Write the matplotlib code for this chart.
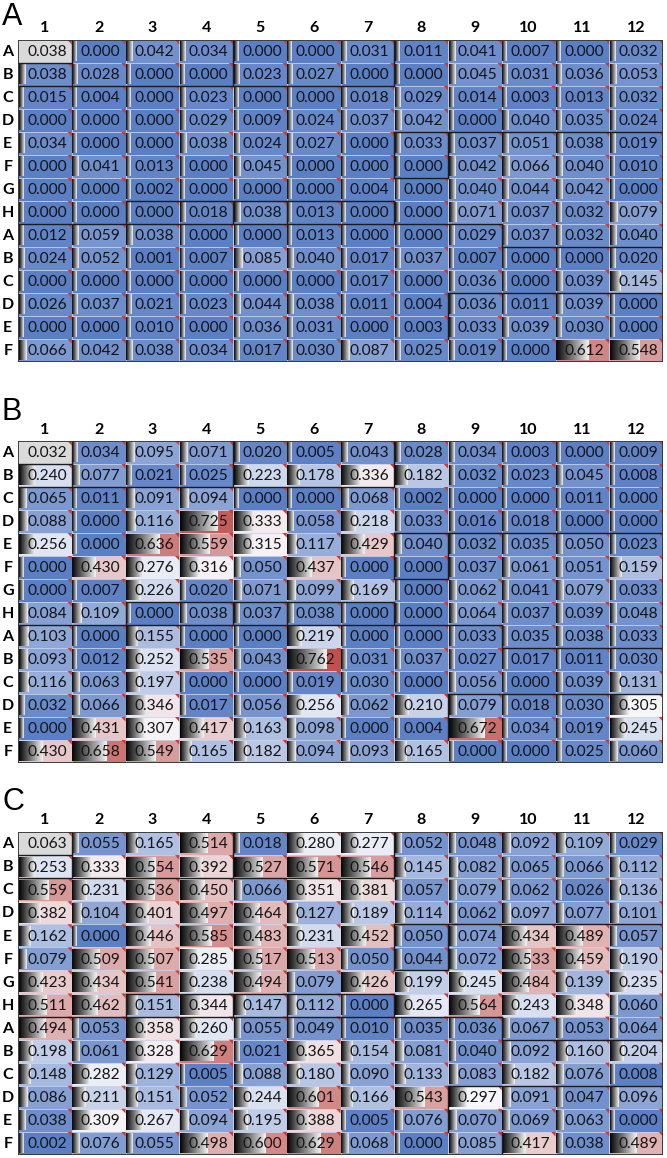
import numpy as np
import matplotlib
matplotlib.use("Agg")
import matplotlib.pyplot as plt
from matplotlib.colors import LinearSegmentedColormap, Normalize
from matplotlib.patches import Rectangle, Polygon

# plate layout
cols = [str(i) for i in range(1, 13)]
rows = ['A', 'B', 'C', 'D', 'E', 'F', 'G', 'H', 'A', 'B', 'C', 'D', 'E', 'F']

vals_a = [
    [0.038, 0.000, 0.042, 0.034, 0.000, 0.000, 0.031, 0.011, 0.041, 0.007, 0.000, 0.032],
    [0.038, 0.028, 0.000, 0.000, 0.023, 0.027, 0.000, 0.000, 0.045, 0.031, 0.036, 0.053],
    [0.015, 0.004, 0.000, 0.023, 0.000, 0.000, 0.018, 0.029, 0.014, 0.003, 0.013, 0.032],
    [0.000, 0.000, 0.000, 0.029, 0.009, 0.024, 0.037, 0.042, 0.000, 0.040, 0.035, 0.024],
    [0.034, 0.000, 0.000, 0.038, 0.024, 0.027, 0.000, 0.033, 0.037, 0.051, 0.038, 0.019],
    [0.000, 0.041, 0.013, 0.000, 0.045, 0.000, 0.000, 0.000, 0.042, 0.066, 0.040, 0.010],
    [0.000, 0.000, 0.002, 0.000, 0.000, 0.000, 0.004, 0.000, 0.040, 0.044, 0.042, 0.000],
    [0.000, 0.000, 0.000, 0.018, 0.038, 0.013, 0.000, 0.000, 0.071, 0.037, 0.032, 0.079],
    [0.012, 0.059, 0.038, 0.000, 0.000, 0.013, 0.000, 0.000, 0.029, 0.037, 0.032, 0.040],
    [0.024, 0.052, 0.001, 0.007, 0.085, 0.040, 0.017, 0.037, 0.007, 0.000, 0.000, 0.020],
    [0.000, 0.000, 0.000, 0.000, 0.000, 0.000, 0.017, 0.000, 0.036, 0.000, 0.039, 0.145],
    [0.026, 0.037, 0.021, 0.023, 0.044, 0.038, 0.011, 0.004, 0.036, 0.011, 0.039, 0.000],
    [0.000, 0.000, 0.010, 0.000, 0.036, 0.031, 0.000, 0.003, 0.033, 0.039, 0.030, 0.000],
    [0.066, 0.042, 0.038, 0.034, 0.017, 0.030, 0.087, 0.025, 0.019, 0.000, 0.612, 0.548],
]

vals_b = [
    [0.032, 0.034, 0.095, 0.071, 0.020, 0.005, 0.043, 0.028, 0.034, 0.003, 0.000, 0.009],
    [0.240, 0.077, 0.021, 0.025, 0.223, 0.178, 0.336, 0.182, 0.032, 0.023, 0.045, 0.008],
    [0.065, 0.011, 0.091, 0.094, 0.000, 0.000, 0.068, 0.002, 0.000, 0.000, 0.011, 0.000],
    [0.088, 0.000, 0.116, 0.725, 0.333, 0.058, 0.218, 0.033, 0.016, 0.018, 0.000, 0.000],
    [0.256, 0.000, 0.636, 0.559, 0.315, 0.117, 0.429, 0.040, 0.032, 0.035, 0.050, 0.023],
    [0.000, 0.430, 0.276, 0.316, 0.050, 0.437, 0.000, 0.000, 0.037, 0.061, 0.051, 0.159],
    [0.000, 0.007, 0.226, 0.020, 0.071, 0.099, 0.169, 0.000, 0.062, 0.041, 0.079, 0.033],
    [0.084, 0.109, 0.000, 0.038, 0.037, 0.038, 0.000, 0.000, 0.064, 0.037, 0.039, 0.048],
    [0.103, 0.000, 0.155, 0.000, 0.000, 0.219, 0.000, 0.000, 0.033, 0.035, 0.038, 0.033],
    [0.093, 0.012, 0.252, 0.535, 0.043, 0.762, 0.031, 0.037, 0.027, 0.017, 0.011, 0.030],
    [0.116, 0.063, 0.197, 0.000, 0.000, 0.019, 0.030, 0.000, 0.056, 0.000, 0.039, 0.131],
    [0.032, 0.066, 0.346, 0.017, 0.056, 0.256, 0.062, 0.210, 0.079, 0.018, 0.030, 0.305],
    [0.000, 0.431, 0.307, 0.417, 0.163, 0.098, 0.000, 0.004, 0.672, 0.034, 0.019, 0.245],
    [0.430, 0.658, 0.549, 0.165, 0.182, 0.094, 0.093, 0.165, 0.000, 0.000, 0.025, 0.060],
]

vals_c = [
    [0.063, 0.055, 0.165, 0.514, 0.018, 0.280, 0.277, 0.052, 0.048, 0.092, 0.109, 0.029],
    [0.253, 0.333, 0.554, 0.392, 0.527, 0.571, 0.546, 0.145, 0.082, 0.065, 0.066, 0.112],
    [0.559, 0.231, 0.536, 0.450, 0.066, 0.351, 0.381, 0.057, 0.079, 0.062, 0.026, 0.136],
    [0.382, 0.104, 0.401, 0.497, 0.464, 0.127, 0.189, 0.114, 0.062, 0.097, 0.077, 0.101],
    [0.162, 0.000, 0.446, 0.585, 0.483, 0.231, 0.452, 0.050, 0.074, 0.434, 0.489, 0.057],
    [0.079, 0.509, 0.507, 0.285, 0.517, 0.513, 0.050, 0.044, 0.072, 0.533, 0.459, 0.190],
    [0.423, 0.434, 0.541, 0.238, 0.494, 0.079, 0.426, 0.199, 0.245, 0.484, 0.139, 0.235],
    [0.511, 0.462, 0.151, 0.344, 0.147, 0.112, 0.000, 0.265, 0.564, 0.243, 0.348, 0.060],
    [0.494, 0.053, 0.358, 0.260, 0.055, 0.049, 0.010, 0.035, 0.036, 0.067, 0.053, 0.064],
    [0.198, 0.061, 0.328, 0.629, 0.021, 0.365, 0.154, 0.081, 0.040, 0.092, 0.160, 0.204],
    [0.148, 0.282, 0.129, 0.005, 0.088, 0.180, 0.090, 0.133, 0.083, 0.182, 0.076, 0.008],
    [0.086, 0.211, 0.151, 0.052, 0.244, 0.601, 0.166, 0.543, 0.297, 0.091, 0.047, 0.096],
    [0.038, 0.309, 0.267, 0.094, 0.195, 0.388, 0.005, 0.076, 0.070, 0.069, 0.063, 0.000],
    [0.002, 0.076, 0.055, 0.498, 0.600, 0.629, 0.068, 0.000, 0.085, 0.417, 0.038, 0.489],
]

panels = ['A', 'B', 'C']

# group outlines on the plate, (x0, y0, x1, y1) in well units
outline = [
    (0, 1, 1, 1), (1, 0, 1, 2), (0, 2, 7, 2), (4, 0, 4, 2), (7, 0, 7, 2),
    (7, 4, 12, 4), (7, 4, 7, 6), (8, 4, 8, 6), (7, 6, 8, 6),
    (2, 7, 7, 7), (2, 7, 2, 8), (4, 7, 4, 8), (5, 7, 5, 8), (7, 7, 7, 8),
    (0, 8, 9, 8), (9, 8, 9, 9), (9, 9, 12, 9),
    (8, 11, 12, 11), (8, 11, 8, 13), (9, 13, 9, 14),
]

cmap = LinearSegmentedColormap.from_list(
    'plate', [(0.0, '#5b7fc5'), (0.30 / 0.76, '#f6f6fa'), (1.0, '#c0504d')])
norm = Normalize(0, 0.76)
bar_img = np.linspace(0.02, 0.95, 64)[None, :, None].repeat(3, axis=2)

fig = plt.figure(figsize=(6.67, 11.58), dpi=100)
W, H = 667, 1158
tops = [40, 441, 832]
bottoms = [362, 763, 1155]
letter_y = [2, 397, 787]

for p, data, top, bot, ly in zip(panels, [vals_a, vals_b, vals_c], tops, bottoms, letter_y):
    ax = fig.add_axes([18 / W, 1 - bot / H, 645 / W, (bot - top) / H])
    arr = np.array(data)
    for r in range(arr.shape[0]):
        for c in range(arr.shape[1]):
            v = arr[r, c]
            if r == 0 and c == 0:
                fc = '#dadada'
            else:
                fc = cmap(norm(v))
            ax.add_patch(Rectangle((c, r), 1, 1, facecolor=fc,
                                   edgecolor='#c9d3ea', lw=0.5, zorder=1))
            if not (r == 0 and c == 0):
                L = 0.08 + 0.85 * v
                ax.imshow(bar_img, extent=(c + 0.01, c + 0.01 + L, r + 0.93, r + 0.07),
                          aspect='auto', interpolation='bilinear', zorder=2)
            ax.add_patch(Polygon([(c + 1, r), (c + 0.92, r), (c + 1, r + 0.2)],
                                 closed=True, color='#d23a30', lw=0, zorder=3))
            ax.text(c + 0.54, r + 0.54, f"{v:.3f}", ha='center', va='center',
                    fontsize=11.2, family='Lato', color='#151515', zorder=4)
    for x0, y0, x1, y1 in outline:
        ax.plot([x0, x1], [y0, y1], color='#1c1c1c', lw=1.0, zorder=5,
                solid_capstyle='projecting')
    ax.add_patch(Rectangle((0, 0), 12, 14, fill=False, edgecolor='#333333',
                           lw=1.3, zorder=6))
    for c, lab in enumerate(cols):
        ax.text(c + 0.5, -0.5, lab, ha='center', va='center', fontsize=11.5,
                family='Lato', fontweight='bold', color='black')
    for r, lab in enumerate(rows):
        ax.text(-0.19, r + 0.53, lab, ha='center', va='center', fontsize=11.5,
                family='Lato', fontweight='bold', color='black')
    ax.set_xlim(0, 12)
    ax.set_ylim(14, 0)
    ax.axis('off')
    fig.text(2 / W, 1 - ly / H, p, ha='left', va='top', fontsize=22,
             family='Liberation Sans', color='black')

fig.savefig('out.png', dpi=100)
